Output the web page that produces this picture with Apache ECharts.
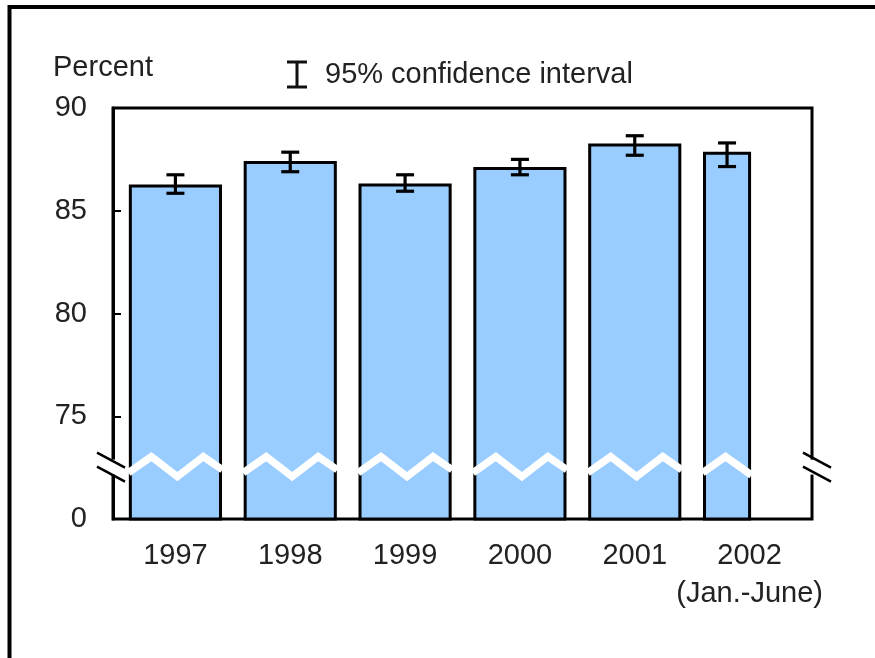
<!DOCTYPE html>
<html>
<head>
<meta charset="utf-8">
<title>Percent, 1997-2002</title>
<style>
  html, body { margin: 0; height: 100%; background: #fff; }
  #container { width: 875px; height: 658px; }
</style>
</head>
<body>
<div id="container"></div>
<script src="https://cdn.jsdelivr.net/npm/echarts@6/dist/echarts.min.js"></script>
<script>
// data
var anos = ['1997', '1998', '1999', '2000', '2001', '2002'];
var rotulos = ['1997', '1998', '1999', '2000', '2001', '2002\n(Jan.-June)'];
var valores = [86.2, 87.35, 86.25, 87.05, 88.2, 87.8];
var minimos = [85.85, 86.9, 85.95, 86.75, 87.7, 87.15];
var maximos = [86.75, 87.85, 86.75, 87.5, 88.65, 88.3];
var meses = [12, 12, 12, 12, 12, 6];
var yTicks = [70, 75, 80, 85, 90];
var yRotulos = ['0', '75', '80', '85', '90'];
var quebra = 72.55; // axis break (the 70 line stands for 0)

var fonte = "'Liberation Sans', Arial, sans-serif";
var corTexto = '#222';

var chart = echarts.init(document.getElementById('container'), null, { renderer: 'canvas' });

// white zigzag across a bar, peaks every 26px
function zig(t) {
  var p = ((t - 21) % 52 + 52) % 52;
  return p < 26 ? -10 + 20 * p / 26 : 10 - 20 * (p - 26) / 26;
}

function desenhaBarra(params, api) {
  var i = api.value(0);
  var topo = api.coord([i, api.value(1)]);
  var base = api.coord([i, 70]);
  var cheia = api.size([1, 0])[0] * 0.785;
  var larg = cheia * api.value(4) / 12;
  var x0 = topo[0] - cheia / 2;
  var yq = api.coord([i, quebra])[1];

  var pts = [[x0 - 2, yq + zig(0)]];
  for (var t = 21; t < larg; t += 26) pts.push([x0 + t, yq + zig(t)]);
  pts.push([x0 + larg + 2, yq + zig(larg)]);

  var cx = x0 + larg / 2;
  var yLo = api.coord([i, api.value(2)])[1];
  var yHi = api.coord([i, api.value(3)])[1];
  var preto = { stroke: '#000', lineWidth: 3.2 };

  return {
    type: 'group',
    children: [
      { type: 'rect', shape: { x: x0, y: topo[1], width: larg, height: base[1] - topo[1] },
        style: { fill: '#99ccff', stroke: '#000', lineWidth: 3 } },
      { type: 'polyline', shape: { points: pts },
        style: { stroke: '#fff', lineWidth: 7.5, fill: null, lineJoin: 'miter' } },
      { type: 'line', shape: { x1: cx, y1: yLo, x2: cx, y2: yHi }, style: preto },
      { type: 'line', shape: { x1: cx - 9, y1: yLo, x2: cx + 9, y2: yLo }, style: preto },
      { type: 'line', shape: { x1: cx - 9, y1: yHi, x2: cx + 9, y2: yHi }, style: preto }
    ]
  };
}

function desenhaQuebraEixo(params, api) {
  var cs = params.coordSys;
  var y = api.coord([0, api.value(1)])[1];
  var filhos = [];
  [[cs.x, -16], [cs.x + cs.width, -9]].forEach(function (e) {
    var xe = e[0], d = e[1];
    filhos.push({ type: 'rect', shape: { x: xe - 3, y: y - 7, width: 6, height: 15 },
      style: { fill: '#fff' } });
    filhos.push({ type: 'line', shape: { x1: xe + d, y1: y - 14, x2: xe + d + 28, y2: y + 1 },
      style: { stroke: '#000', lineWidth: 2.5 } });
    filhos.push({ type: 'line', shape: { x1: xe + d, y1: y, x2: xe + d + 28, y2: y + 15 },
      style: { stroke: '#000', lineWidth: 2.5 } });
  });
  return { type: 'group', children: filhos };
}

var option = {
  animation: false,
  backgroundColor: '#fff',
  textStyle: { fontFamily: fonte },
  title: {
    text: 'Percent', left: 53, top: 53, padding: 0,
    textStyle: { fontFamily: fonte, fontSize: 29, fontWeight: 'normal', color: corTexto }
  },
  legend: {
    left: 287, top: 60, padding: 0, selectedMode: false,
    itemWidth: 22, itemHeight: 28,
    data: [{ name: '95% confidence interval',
      icon: 'path://M0,0H20V3H11.5V25H20V28H0V25H8.5V3H0Z' }],
    textStyle: { fontFamily: fonte, fontSize: 29, color: corTexto, padding: [0, 0, 0, 12] }
  },
  graphic: [{
    type: 'rect', silent: true,
    shape: { x: 9.5, y: 7, width: 900, height: 700 },
    style: { fill: null, stroke: '#000', lineWidth: 4 }
  }],
  grid: [
    { left: 113, top: 108, width: 699, height: 411, show: true,
      borderColor: '#000', borderWidth: 3, backgroundColor: 'transparent' },
    { left: 118, top: 108, width: 689, height: 411 }
  ],
  xAxis: [
    { gridIndex: 0, type: 'value', min: 0, max: 1, show: false },
    { gridIndex: 1, type: 'category', data: anos,
      axisLine: { show: false }, axisTick: { show: false },
      axisLabel: {
        interval: 0, margin: 18, fontSize: 29, lineHeight: 38, color: corTexto,
        fontFamily: fonte,
        formatter: function (v, idx) { return rotulos[idx]; }
      } }
  ],
  yAxis: [
    { gridIndex: 0, type: 'value', min: 70, max: 90, interval: 5,
      splitLine: { show: false },
      axisLine: { show: true, lineStyle: { color: '#000', width: 3 } },
      axisTick: { show: true, inside: true, length: 8, lineStyle: { color: '#000', width: 2 } },
      axisLabel: {
        margin: 26, fontSize: 29, color: corTexto, fontFamily: fonte,
        formatter: function (v) { var k = yTicks.indexOf(v); return k < 0 ? '' : yRotulos[k]; }
      } },
    { gridIndex: 1, type: 'value', min: 70, max: 90, show: false }
  ],
  series: [
    {
      name: '95% confidence interval',
      type: 'custom',
      xAxisIndex: 1, yAxisIndex: 1,
      itemStyle: { color: '#111' },
      renderItem: desenhaBarra,
      data: anos.map(function (a, i) {
        return [i, valores[i], minimos[i], maximos[i], meses[i]];
      }),
      z: 3
    },
    {
      name: 'quebra',
      type: 'custom',
      xAxisIndex: 0, yAxisIndex: 0,
      renderItem: desenhaQuebraEixo,
      data: [[0, quebra]],
      silent: true,
      z: 5
    }
  ]
};

chart.setOption(option);
</script>
</body>
</html>
